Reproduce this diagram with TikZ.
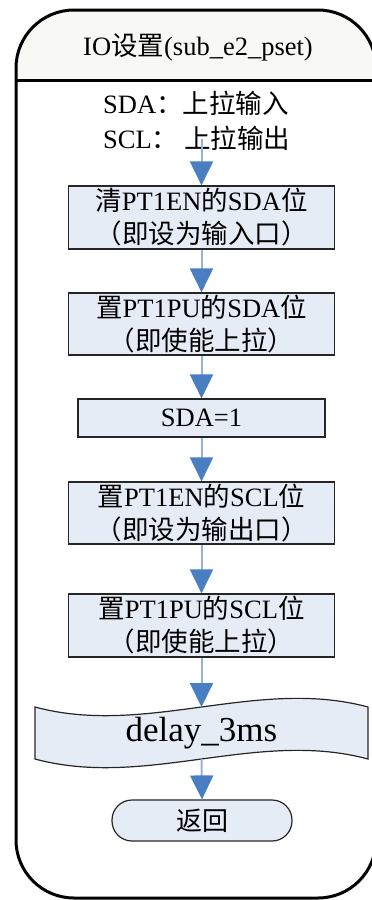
\documentclass[tikz,border=0pt]{standalone}
\usepackage{fontspec}
\setmainfont{Liberation Serif}
\newfontfamily\cjk{Noto Sans CJK SC}
\usetikzlibrary{arrows.meta}

\definecolor{boxfill}{RGB}{230,236,246}
\definecolor{headblue}{RGB}{74,126,195}
\definecolor{shaftblue}{RGB}{149,179,215}
\definecolor{headerfill}{RGB}{248,248,245}

\newcommand{\zh}[1]{{\cjk #1}}

\begin{document}
\begin{tikzpicture}[x=1pt,y=-1pt,
  procbox/.style={draw=black!85, line width=1.2pt, fill=boxfill,
    minimum width=266pt, minimum height=62pt, inner sep=0pt,
    align=center, font=\fontsize{26.5}{33}\selectfont},
  plain/.style={inner sep=0pt, font=\fontsize{26.5}{33}\selectfont},
  flow/.style={draw=shaftblue, line width=2pt,
    -{Triangle[width=23pt,length=24pt,color=headblue]}},
  frame/.style={draw=black, line width=3pt, rounded corners=58pt}
]
\useasboundingbox (0,0) rectangle (372,900);

% outer swimlane frame with a tinted header
\begin{scope}
  \clip[rounded corners=58pt] (16,450) -- (16,10) -- (376,10) -- (376,898) -- (16,898) -- cycle;
  \fill[headerfill] (0,0) rectangle (380,80);
\end{scope}
\draw[frame] (16,450) -- (16,10) -- (376,10) -- (376,898) -- (16,898) -- cycle;
\draw[line width=3pt] (16,80) -- (376,80);

\node[plain, font=\fontsize{26.5}{30}\selectfont] (title) at (198,47) {IO\zh{设置}(sub\_e2\_pset)};

% pin settings note
\node[plain, anchor=west] (note1) at (103,103) {SDA\zh{：上拉输入}};
\node[plain, anchor=west] (note2) at (103,138) {SCL\zh{： 上拉输出}};
\coordinate (start) at (201.5,139);

% process steps
\node[procbox, minimum height=63pt] (b1) at (201.5,217.5) {\zh{清}PT1EN\zh{的}SDA\zh{位}\\\zh{（即设为输入口）}};
\node[procbox] (b2) at (201.5,324) {\zh{置}PT1PU\zh{的}SDA\zh{位}\\\zh{（即使能上拉）}};
\node[procbox, minimum width=247pt, minimum height=38pt] (b3) at (201.5,418) {SDA=1};
\node[procbox] (b4) at (201.5,513) {\zh{置}PT1EN\zh{的}SCL\zh{位}\\\zh{（即设为输出口）}};
\node[procbox, minimum height=63pt] (b5) at (201.5,625.5) {\zh{置}PT1PU\zh{的}SCL\zh{位}\\\zh{（即使能上拉）}};

% delay step drawn as a punched tape
\draw[draw=black!85, line width=1.2pt, fill=boxfill]
  (35,707) .. controls (146,737) and (257,677) .. (368,707)
  -- (368,759) .. controls (257,729) and (146,789) .. (35,759) -- cycle;
\node[plain, font=\fontsize{35}{40}\selectfont] (delay) at (201.5,733) {delay\_3ms};
\coordinate (tapetop) at (201.5,707);
\coordinate (tapebot) at (201.5,759);

% return terminator
\node[draw=black!85, line width=1.2pt, fill=boxfill, rounded corners=20pt,
  minimum width=180pt, minimum height=41pt, inner sep=0pt,
  font=\fontsize{26}{30}\selectfont] (ret) at (202,820.5) {\zh{返回}};

% connectors
\draw[flow] (start) -- (b1.north);
\draw[flow] (b1.south) -- (b2.north);
\draw[flow] (b2.south) -- (b3.north);
\draw[flow] (b3.south) -- (b4.north);
\draw[flow] (b4.south) -- (b5.north);
\draw[flow] (b5.south) -- (tapetop);
\draw[flow] (tapebot) -- (ret.north);
\end{tikzpicture}
\end{document}
